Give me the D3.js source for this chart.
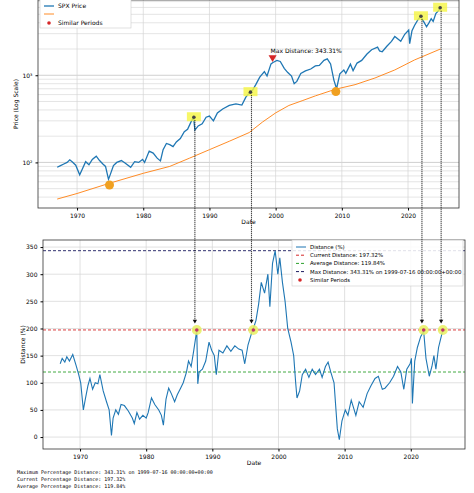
<!DOCTYPE html>
<html><head><meta charset="utf-8">
<script src="https://cdn.jsdelivr.net/npm/d3@7"></script>
<style>
body{margin:0;background:#fff}
text{font-family:"DejaVu Sans",sans-serif}
.mono{font-family:"DejaVu Sans Mono",monospace}
</style></head><body>
<svg id="c" width="474" height="493"></svg>
<script>
// SPX price (year, price)
const spx = [[1967,88],[1967.5,92],[1968,96],[1968.5,100],[1968.9,107],[1969.3,101],[1969.8,93],[1970.4,72],[1970.8,84],[1971.3,102],[1971.8,94],[1972.3,108],[1972.9,118],[1973.4,105],[1973.9,96],[1974.3,90],[1974.75,64],[1975,72],[1975.5,92],[1976,100],[1976.7,105],[1977.3,98],[1978.1,88],[1978.7,102],[1979.3,100],[1979.9,108],[1980.2,100],[1980.9,135],[1981.5,128],[1982.1,112],[1982.6,104],[1983,140],[1983.5,165],[1984,160],[1984.5,152],[1985,172],[1985.6,188],[1986.2,225],[1986.7,240],[1987.2,290],[1987.6,330],[1987.8,235],[1988.3,262],[1988.9,278],[1989.5,330],[1990,340],[1990.6,300],[1991.2,370],[1992,410],[1993,450],[1994,470],[1994.9,455],[1995.5,560],[1996.1,640],[1996.5,670],[1997,780],[1997.6,950],[1998.3,1100],[1998.7,980],[1999.3,1350],[1999.6,1400],[2000.2,1480],[2000.7,1440],[2001.3,1200],[2001.8,1080],[2002.4,980],[2002.8,800],[2003.2,850],[2003.8,1050],[2004.5,1120],[2005.3,1180],[2006,1280],[2006.6,1300],[2007.3,1480],[2007.8,1540],[2008.3,1350],[2008.8,880],[2009.2,700],[2009.7,1040],[2010.3,1150],[2010.6,1050],[2011.3,1340],[2011.7,1130],[2012.3,1380],[2013,1480],[2013.8,1750],[2014.5,1960],[2015.4,2100],[2015.7,1900],[2016.1,1860],[2016.8,2150],[2017.5,2450],[2018,2780],[2018.9,2450],[2019.5,2950],[2020.1,3300],[2020.25,2300],[2020.6,3250],[2021,3750],[2021.5,4350],[2021.95,4750],[2022.3,4200],[2022.8,3600],[2023.2,4050],[2023.5,4450],[2023.8,4150],[2024.2,5100],[2024.6,5500],[2024.9,5950]];
// long moving average (year, value)
const ma = [[1967,38],[1970,44],[1975,58],[1980,75],[1984,90],[1987,112],[1990,140],[1993,175],[1996,220],[1998,290],[2000,370],[2002,450],[2004,510],[2006,580],[2009,690],[2012,780],[2015,930],[2018,1150],[2021,1500],[2024.9,2000]];
// distance (%) (year, value)
const dist = [[1967,135],[1967.3,145],[1967.7,138],[1968,148],[1968.4,140],[1968.9,152],[1969.4,132],[1969.8,115],[1970.1,100],[1970.5,50],[1970.8,70],[1971.2,95],[1971.5,108],[1971.9,88],[1972.3,100],[1972.7,98],[1973,115],[1973.5,85],[1974,65],[1974.4,50],[1974.75,3],[1975,35],[1975.4,50],[1975.8,42],[1976.2,60],[1976.7,58],[1977.3,48],[1977.9,35],[1978.2,25],[1978.6,45],[1979,33],[1979.5,40],[1980,35],[1980.3,45],[1980.8,72],[1981.3,60],[1981.9,50],[1982.3,40],[1982.6,22],[1983,70],[1983.4,90],[1983.8,80],[1984.3,65],[1984.7,78],[1985.2,90],[1985.6,100],[1986.1,120],[1986.4,140],[1986.8,130],[1987.2,160],[1987.65,197],[1987.8,98],[1988,120],[1988.5,125],[1989,140],[1989.5,175],[1989.9,160],[1990.3,150],[1990.6,115],[1991,160],[1991.6,155],[1992.2,168],[1992.8,158],[1993.4,168],[1994,162],[1994.5,160],[1994.9,135],[1995.4,170],[1995.9,190],[1996.2,200],[1996.6,215],[1997,245],[1997.4,285],[1997.9,265],[1998.4,300],[1998.7,240],[1999.1,320],[1999.5,343],[1999.9,300],[2000.2,330],[2000.6,285],[2001,250],[2001.4,200],[2001.9,175],[2002.3,150],[2002.6,100],[2002.8,72],[2003.2,85],[2003.6,115],[2004.1,125],[2004.6,110],[2005.1,125],[2005.6,115],[2006.2,125],[2006.6,110],[2007.1,130],[2007.5,138],[2007.9,120],[2008.4,100],[2008.9,15],[2009.2,-5],[2009.6,30],[2010.1,50],[2010.5,40],[2011,68],[2011.7,40],[2012.2,65],[2012.8,55],[2013.4,80],[2014,95],[2014.6,108],[2015.1,112],[2015.7,88],[2016.1,90],[2016.8,100],[2017.4,112],[2018,130],[2018.5,120],[2018.95,88],[2019.4,125],[2019.9,135],[2020.1,145],[2020.25,62],[2020.6,140],[2021,165],[2021.5,185],[2021.95,195],[2022.3,145],[2022.8,112],[2023.2,130],[2023.5,150],[2023.8,125],[2024.2,165],[2024.5,180],[2024.85,197]];
const similarYears = [1987.65, 1996.2, 2021.95, 2024.85];
const similarPrice = [330, 640, 4750, 5950];
const lowYears = [1974.9, 2009.1];
const lowPrice = [55, 650];
const xTicks = [1970, 1980, 1990, 2000, 2010, 2020];
const distTicks = [0, 50, 100, 150, 200, 250, 300, 350];
const currentDist = 197.32, avgDist = 119.84, maxDist = 343.31, maxYear = 1999.54;
const notes = ["Maximum Percentage Distance: 343.31% on 1999-07-16 00:00:00+00:00",
  "Current Percentage Distance: 197.32%", "Average Percentage Distance: 119.84%"];

const svg = d3.select("#c");
const blue = "#1f77b4", orange = "#ff7f0e";
const fs = 6;

// top panel
const T = {l: 38, r: 459, t: 0, b: 208};
const x1 = d3.scaleLinear().domain([1964.1, 2027.7]).range([T.l, T.r]);
const y1 = d3.scaleLog().domain([30, 7300]).range([T.b, T.t]);
const g1 = svg.append("g");
const minor = [];
[10, 100, 1000].forEach(d => d3.range(2, 10).forEach(k => { if (d*k > 30 && d*k < 7300) minor.push(d*k); }));
g1.selectAll(".mg").data(minor).join("line").attr("x1", T.l).attr("x2", T.r)
  .attr("y1", d => y1(d)).attr("y2", d => y1(d)).attr("stroke", "#d4d4d4").attr("stroke-width", 0.6);
g1.selectAll(".Mg").data([100, 1000]).join("line").attr("x1", T.l).attr("x2", T.r)
  .attr("y1", d => y1(d)).attr("y2", d => y1(d)).attr("stroke", "#c4c4c4").attr("stroke-width", 0.8);
g1.selectAll(".vg").data(xTicks).join("line").attr("y1", T.t).attr("y2", T.b)
  .attr("x1", d => x1(d)).attr("x2", d => x1(d)).attr("stroke", "#d4d4d4").attr("stroke-width", 0.7);
const line1 = d3.line().x(d => x1(d[0])).y(d => y1(d[1]));
g1.append("path").datum(ma).attr("d", line1).attr("fill", "none").attr("stroke", orange).attr("stroke-width", 0.9);
g1.append("path").datum(spx).attr("d", line1).attr("fill", "none").attr("stroke", blue).attr("stroke-width", 1.3);
g1.selectAll(".hl").data(similarYears).join("rect")
  .attr("x", (d) => x1(d) - 7).attr("y", (d, i) => y1(similarPrice[i]) - 5).attr("width", 14).attr("height", 9)
  .attr("fill", "#f5f542").attr("opacity", 0.8);
g1.selectAll(".sp").data(similarYears).join("circle")
  .attr("cx", d => x1(d)).attr("cy", (d, i) => y1(similarPrice[i])).attr("r", 1.8).attr("fill", "#444");
g1.selectAll(".lo").data(lowYears).join("circle")
  .attr("cx", d => x1(d)).attr("cy", (d, i) => y1(lowPrice[i])).attr("r", 4.5).attr("fill", "#f0a020");
g1.append("path").attr("d", d3.symbol(d3.symbolTriangle, 28)())
  .attr("transform", `translate(${x1(maxYear)},${y1(1600)}) rotate(180)`).attr("fill", "#d62728");
g1.append("text").attr("x", x1(maxYear) - 2).attr("y", y1(1600) - 4).attr("font-size", fs).text("Max Distance: 343.31%");
g1.append("rect").attr("x", T.l).attr("y", T.t).attr("width", T.r - T.l).attr("height", T.b - T.t)
  .attr("fill", "none").attr("stroke", "#333").attr("stroke-width", 0.8);
const ax1 = g1.append("g").attr("transform", `translate(0,${T.b})`)
  .call(d3.axisBottom(x1).tickValues(xTicks).tickFormat(d3.format("d")).tickSize(2.5));
const ay1 = g1.append("g").attr("transform", `translate(${T.l},0)`)
  .call(d3.axisLeft(y1).tickValues([100, 1000]).tickFormat(d => d === 100 ? "10²" : "10³").tickSize(2.5));
[ax1, ay1].forEach(a => { a.select(".domain").remove(); a.selectAll("text").attr("font-size", fs); });
g1.append("text").attr("x", (T.l + T.r) / 2).attr("y", 224).attr("text-anchor", "middle").attr("font-size", fs).text("Date");
g1.append("text").attr("transform", `translate(18,${(T.t + T.b) / 2}) rotate(-90)`).attr("text-anchor", "middle")
  .attr("font-size", fs).text("Price (Log Scale)");
// top legend
const lg1 = g1.append("g");
lg1.append("rect").attr("x", 40).attr("y", -1).attr("width", 91).attr("height", 29).attr("fill", "#fff")
  .attr("stroke", "#ccc").attr("stroke-width", 0.6);
lg1.append("line").attr("x1", 44).attr("x2", 54).attr("y1", 6).attr("y2", 6).attr("stroke", blue).attr("stroke-width", 1.3);
lg1.append("text").attr("x", 58).attr("y", 8).attr("font-size", fs).text("SPX Price");
lg1.append("line").attr("x1", 44).attr("x2", 54).attr("y1", 14).attr("y2", 14).attr("stroke", orange).attr("stroke-width", 0.9);
lg1.append("circle").attr("cx", 49).attr("cy", 23).attr("r", 1.8).attr("fill", "#d62728");
lg1.append("text").attr("x", 58).attr("y", 25).attr("font-size", fs).text("Similar Periods");

// bottom panel
const B = {l: 43, r: 465, t: 240, b: 449};
const x2 = d3.scaleLinear().domain([1964.4, 2028.2]).range([B.l, B.r]);
const y2 = d3.scaleLinear().domain([-22, 363]).range([B.b, B.t]);
const g2 = svg.append("g");
g2.selectAll(".hg").data(distTicks).join("line").attr("x1", B.l).attr("x2", B.r)
  .attr("y1", d => y2(d)).attr("y2", d => y2(d)).attr("stroke", "#d4d4d4").attr("stroke-width", 0.7);
g2.selectAll(".vg").data(xTicks).join("line").attr("y1", B.t).attr("y2", B.b)
  .attr("x1", d => x2(d)).attr("x2", d => x2(d)).attr("stroke", "#d4d4d4").attr("stroke-width", 0.7);
const refs = [[currentDist, "#d62728"], [avgDist, "#2ca02c"], [maxDist, "#1a1a5e"]];
g2.selectAll(".ref").data(refs).join("line").attr("x1", B.l).attr("x2", B.r)
  .attr("y1", d => y2(d[0])).attr("y2", d => y2(d[0])).attr("stroke", d => d[1]).attr("stroke-width", 0.9)
  .attr("stroke-dasharray", "3,2");
g2.append("path").datum(dist).attr("d", d3.line().x(d => x2(d[0])).y(d => y2(d[1])))
  .attr("fill", "none").attr("stroke", blue).attr("stroke-width", 1.1);
g2.selectAll(".hc").data(similarYears).join("circle").attr("cx", d => x2(d)).attr("cy", y2(currentDist)).attr("r", 5)
  .attr("fill", "#e8f060").attr("opacity", 0.85);
g2.selectAll(".sc").data(similarYears).join("circle").attr("cx", d => x2(d)).attr("cy", y2(currentDist)).attr("r", 1.8)
  .attr("fill", "#c0306a");
g2.append("rect").attr("x", B.l).attr("y", B.t).attr("width", B.r - B.l).attr("height", B.b - B.t)
  .attr("fill", "none").attr("stroke", "#333").attr("stroke-width", 0.8);
const ax2 = g2.append("g").attr("transform", `translate(0,${B.b})`)
  .call(d3.axisBottom(x2).tickValues(xTicks).tickFormat(d3.format("d")).tickSize(2.5));
const ay2 = g2.append("g").attr("transform", `translate(${B.l},0)`)
  .call(d3.axisLeft(y2).tickValues(distTicks).tickSize(2.5));
[ax2, ay2].forEach(a => { a.select(".domain").remove(); a.selectAll("text").attr("font-size", fs); });
g2.append("text").attr("x", (B.l + B.r) / 2).attr("y", 465).attr("text-anchor", "middle").attr("font-size", fs).text("Date");
g2.append("text").attr("transform", `translate(25,${(B.t + B.b) / 2}) rotate(-90)`).attr("text-anchor", "middle")
  .attr("font-size", fs).text("Distance (%)");
// bottom legend
const lg2 = g2.append("g");
lg2.append("rect").attr("x", 292).attr("y", 240).attr("width", 171).attr("height", 46).attr("fill", "#fff")
  .attr("fill-opacity", 0.85).attr("stroke", "#ccc").attr("stroke-width", 0.6);
const items = [[blue, null, "Distance (%)"], ["#d62728", "3,2", "Current Distance: 197.32%"],
  ["#2ca02c", "3,2", "Average Distance: 119.84%"], ["#1a1a5e", "3,2", "Max Distance: 343.31% on 1999-07-16 00:00:00+00:00"]];
items.forEach((it, i) => {
  const yy = 247 + i * 8.2;
  lg2.append("line").attr("x1", 296).attr("x2", 306).attr("y1", yy).attr("y2", yy).attr("stroke", it[0])
    .attr("stroke-width", 1).attr("stroke-dasharray", it[1]);
  lg2.append("text").attr("x", 310).attr("y", yy + 2).attr("font-size", 5.4).text(it[2]);
});
lg2.append("circle").attr("cx", 300).attr("cy", 280).attr("r", 1.8).attr("fill", "#d62728");
lg2.append("text").attr("x", 310).attr("y", 282).attr("font-size", 5.4).text("Similar Periods");

// connector dotted lines across panels
svg.selectAll(".cn").data(similarYears).join("line")
  .attr("x1", d => x1(d) + 1).attr("x2", d => x1(d) + 1)
  .attr("y1", (d, i) => y1(similarPrice[i]) + 3).attr("y2", y2(currentDist) - 9)
  .attr("stroke", "#111").attr("stroke-width", 1.1).attr("stroke-dasharray", "1,1");
svg.selectAll(".ah").data(similarYears).join("path").attr("d", d3.symbol(d3.symbolTriangle, 8)())
  .attr("transform", d => `translate(${x1(d) + 1},${y2(currentDist) - 9}) rotate(180)`).attr("fill", "#111");

svg.selectAll(".nt").data(notes).join("text").attr("class", "mono").attr("x", 17).attr("y", (d, i) => 474 + i * 6.8)
  .attr("font-size", 5).text(d => d);
</script></body></html>
